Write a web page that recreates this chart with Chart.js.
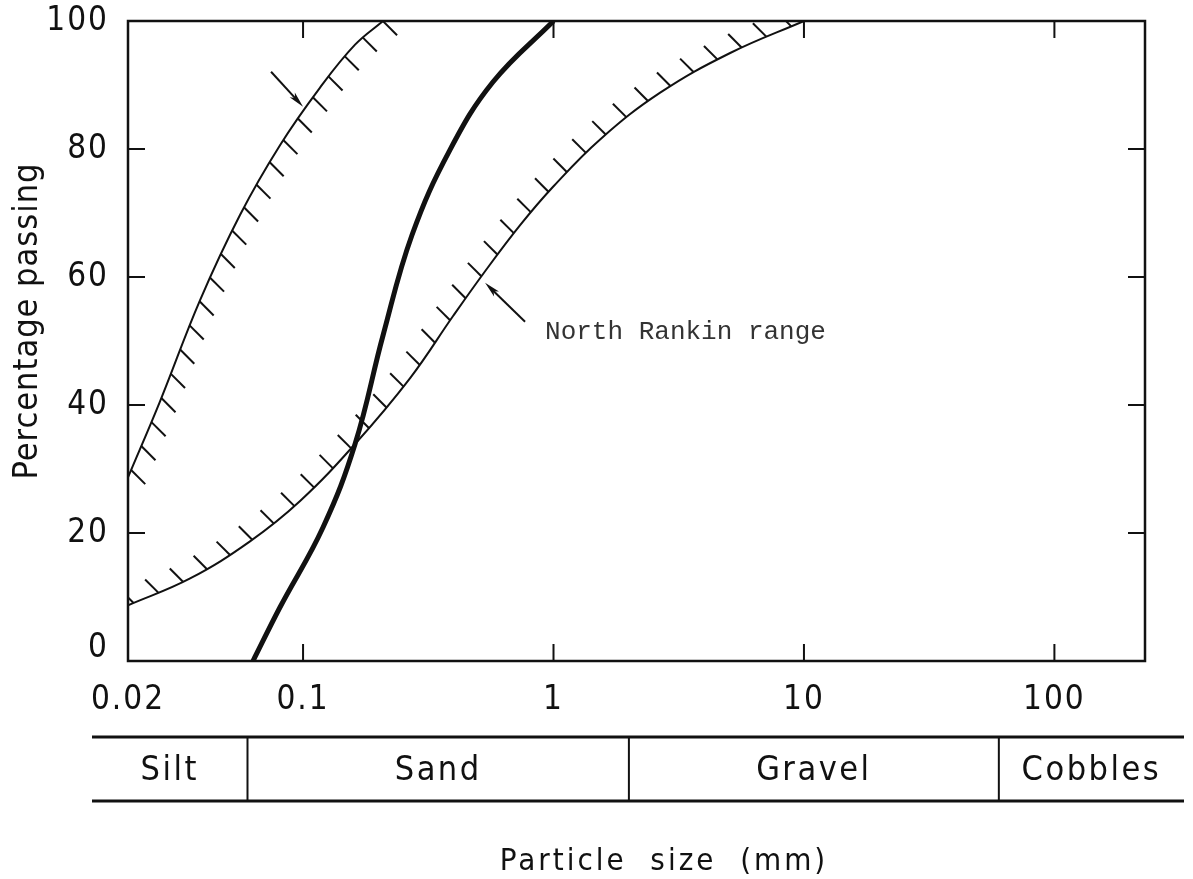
<!DOCTYPE html>
<html>
<head>
<meta charset="utf-8">
<script src="https://cdn.jsdelivr.net/npm/chart.js@4/dist/chart.umd.min.js"></script>
<style>
  html, body { margin: 0; padding: 0; background: #fff; }
  #chartContainer { width: 1193px; height: 879px; }
</style>
</head>
<body>
<div id="chartContainer"><canvas id="chartCanvas" width="1193" height="879"></canvas></div>
<script>
// Grading curves (particle size in mm, % passing)
const fineLimitX = [0.02, 0.0268, 0.0388, 0.056, 0.0809, 0.1169, 0.1613, 0.2087];
const fineLimitY = [28.7, 40.5, 56.4, 69.7, 80.6, 89.6, 96.3, 100];

const coarseLimitX = [0.02, 0.0354, 0.0614, 0.0973, 0.1613, 0.2676, 0.3972, 0.5331, 0.7357, 0.996, 1.535, 2.666, 5.074, 10];
const coarseLimitY = [8.7, 12.9, 18.7, 25.0, 33.9, 44.2, 53.9, 60.9, 68.1, 74.1, 81.5, 88.8, 95.0, 100];

const sampleX = [0.0631, 0.0809, 0.1202, 0.1613, 0.2087, 0.2725, 0.3865, 0.574, 1.0];
const sampleY = [0, 8.4, 20.9, 33.9, 50.9, 66.6, 79.9, 90.5, 100];

// axes
const xMin = 0.02, xMax = 230;
const xTickMarks = [0.1, 1, 10, 100];
const xLabelValues = [0.02, 0.1, 1, 10, 100];
const xLabelText = ['0.02', '0.1', '1', '10', '100'];
const yTicks = [0, 20, 40, 60, 80, 100];

// soil classes below the axis
const classLimits = [0.06, 2, 60];
const classNames = ['Silt', 'Sand', 'Gravel', 'Cobbles'];

// arrows: tip given in data units
const fineArrowTip = {x: 0.1, y: 86.6};
const rangeArrowTip = {x: 0.533, y: 59.1};
const rangeLabel = 'North Rankin range';

const INK = '#111';
const SANS = "'DejaVu Sans Condensed', 'DejaVu Sans', sans-serif";

function toPoints(xs, ys) {
    return xs.map((e, i) => ({x: e, y: ys[i]}));
}

// sample the bezier path chart.js built for a line
function pathSamples(pts) {
    const out = [{x: pts[0].x, y: pts[0].y}];
    for (let i = 0; i < pts.length - 1; i++) {
        const a = pts[i], b = pts[i + 1];
        const c1x = a.cp2x ?? a.x, c1y = a.cp2y ?? a.y;
        const c2x = b.cp1x ?? b.x, c2y = b.cp1y ?? b.y;
        for (let s = 1; s <= 30; s++) {
            const t = s / 30, u = 1 - t;
            out.push({
                x: u*u*u*a.x + 3*u*u*t*c1x + 3*u*t*t*c2x + t*t*t*b.x,
                y: u*u*u*a.y + 3*u*u*t*c1y + 3*u*t*t*c2y + t*t*t*b.y
            });
        }
    }
    return out;
}

function drawArrow(ctx, tx, ty, fx, fy) {
    const ang = Math.atan2(ty - fy, tx - fx);
    const headLen = 16, headW = 3.5;
    ctx.beginPath();
    ctx.moveTo(fx, fy);
    ctx.lineTo(tx - Math.cos(ang) * headLen * 0.6, ty - Math.sin(ang) * headLen * 0.6);
    ctx.stroke();
    ctx.save();
    ctx.translate(tx, ty);
    ctx.rotate(ang);
    ctx.beginPath();
    ctx.moveTo(0, 0);
    ctx.lineTo(-headLen, headW);
    ctx.lineTo(-headLen * 0.75, 0);
    ctx.lineTo(-headLen, -headW);
    ctx.closePath();
    ctx.fill();
    ctx.restore();
}

const hatchPlugin = {
    id: 'hatches',
    afterDatasetsDraw(chart) {
        const ctx = chart.ctx;
        const area = chart.chartArea;
        ctx.save();
        ctx.beginPath();
        ctx.rect(area.left, area.top, area.right - area.left, area.bottom - area.top);
        ctx.clip();
        ctx.strokeStyle = INK;
        ctx.lineWidth = 2;
        chart.data.datasets.forEach((ds, di) => {
            if (!ds.hatch) return;
            const pts = chart.getDatasetMeta(di).data;
            const path = pathSamples(pts);
            const step = ds.hatch.step, len = ds.hatch.length;
            const hx = ds.hatch.dx / Math.SQRT2 * len, hy = ds.hatch.dy / Math.SQRT2 * len;
            let dist = 0, next = ds.hatch.start;
            for (let i = 1; i < path.length; i++) {
                const seg = Math.hypot(path[i].x - path[i-1].x, path[i].y - path[i-1].y);
                while (dist + seg >= next) {
                    const f = (next - dist) / seg;
                    const px = path[i-1].x + (path[i].x - path[i-1].x) * f;
                    const py = path[i-1].y + (path[i].y - path[i-1].y) * f;
                    ctx.beginPath();
                    ctx.moveTo(px, py);
                    ctx.lineTo(px + hx, py + hy);
                    ctx.stroke();
                    next += step;
                }
                dist += seg;
            }
        });
        ctx.restore();
    }
};

const framePlugin = {
    id: 'frame',
    afterDraw(chart) {
        const ctx = chart.ctx;
        const a = chart.chartArea;
        const xs = chart.scales.x, ys = chart.scales.y;
        const tick = 17;
        ctx.save();
        ctx.strokeStyle = INK;
        ctx.fillStyle = INK;
        ctx.lineCap = 'butt';

        // plot border
        ctx.lineWidth = 2.5;
        ctx.strokeRect(a.left, a.top, a.right - a.left, a.bottom - a.top);

        // inward ticks
        ctx.lineWidth = 2;
        xTickMarks.forEach(v => {
            const px = xs.getPixelForValue(v);
            ctx.beginPath();
            ctx.moveTo(px, a.bottom); ctx.lineTo(px, a.bottom - tick);
            ctx.moveTo(px, a.top); ctx.lineTo(px, a.top + tick);
            ctx.stroke();
        });
        yTicks.forEach(v => {
            if (v === ys.min || v === ys.max) return;
            const py = ys.getPixelForValue(v);
            ctx.beginPath();
            ctx.moveTo(a.left, py); ctx.lineTo(a.left + tick, py);
            ctx.moveTo(a.right, py); ctx.lineTo(a.right - tick, py);
            ctx.stroke();
        });

        // tick labels
        ctx.font = '33px ' + SANS;
        ctx.letterSpacing = '2px';
        ctx.textAlign = 'right';
        ctx.textBaseline = 'middle';
        yTicks.forEach(v => {
            const py = Math.min(ys.getPixelForValue(v), a.bottom - 13);
            ctx.fillText(String(v), a.left - 19, py);
        });
        ctx.textAlign = 'center';
        ctx.textBaseline = 'alphabetic';
        xLabelValues.forEach((v, i) => {
            ctx.fillText(xLabelText[i], xs.getPixelForValue(v), a.bottom + 48);
        });

        // y title
        ctx.save();
        ctx.translate(37, a.top + 300);
        ctx.rotate(-Math.PI / 2);
        ctx.font = '34px ' + SANS;
        ctx.letterSpacing = '1px';
        ctx.fillText('Percentage passing', 0, 0);
        ctx.restore();

        // classification band
        const bandTop = a.bottom + 76, bandBot = a.bottom + 140;
        const bandLeft = a.left - 36, bandRight = a.right + 39;
        ctx.lineWidth = 3;
        ctx.beginPath();
        ctx.moveTo(bandLeft, bandTop); ctx.lineTo(bandRight, bandTop);
        ctx.moveTo(bandLeft, bandBot); ctx.lineTo(bandRight, bandBot);
        ctx.stroke();
        ctx.lineWidth = 2;
        const edges = [bandLeft].concat(classLimits.map(v => xs.getPixelForValue(v)), [bandRight]);
        classLimits.forEach((v, i) => {
            const px = edges[i + 1];
            ctx.beginPath();
            ctx.moveTo(px, bandTop); ctx.lineTo(px, bandBot);
            ctx.stroke();
        });
        ctx.font = '34px ' + SANS;
        ctx.letterSpacing = '2.5px';
        classNames.forEach((name, i) => {
            ctx.fillText(name, (edges[i] + edges[i + 1]) / 2, bandBot - 21);
        });

        // x title
        ctx.font = '31px ' + SANS;
        ctx.letterSpacing = '3px';
        ctx.fillText('Particle  size  (mm)', 664, a.bottom + 209);

        // arrows and annotation
        ctx.lineWidth = 2;
        const t1x = xs.getPixelForValue(fineArrowTip.x), t1y = ys.getPixelForValue(fineArrowTip.y);
        drawArrow(ctx, t1x, t1y, t1x - 32, t1y - 35);
        const t2x = xs.getPixelForValue(rangeArrowTip.x), t2y = ys.getPixelForValue(rangeArrowTip.y);
        drawArrow(ctx, t2x, t2y, t2x + 40, t2y + 39);
        ctx.font = "26px 'Liberation Mono', 'DejaVu Sans Mono', monospace";
        ctx.letterSpacing = '0px';
        ctx.fillStyle = '#333';
        ctx.textAlign = 'left';
        ctx.fillText(rangeLabel, t2x + 60, t2y + 56);
        ctx.restore();
    }
};

const ctx = document.getElementById('chartCanvas').getContext('2d');
new Chart(ctx, {
    type: 'scatter',
    data: {
        datasets: [
            {
                label: 'Fine limit',
                data: toPoints(fineLimitX, fineLimitY),
                showLine: true,
                borderColor: INK,
                borderWidth: 2,
                pointRadius: 0,
                tension: 0.4,
                hatch: {dx: 1, dy: 1, step: 26, length: 20, start: 8}
            },
            {
                label: 'Coarse limit',
                data: toPoints(coarseLimitX, coarseLimitY),
                showLine: true,
                borderColor: INK,
                borderWidth: 2,
                pointRadius: 0,
                tension: 0.4,
                hatch: {dx: -1, dy: -1, step: 27, length: 19, start: 6}
            },
            {
                label: 'Sample',
                data: toPoints(sampleX, sampleY),
                showLine: true,
                borderColor: INK,
                borderWidth: 5,
                pointRadius: 0,
                tension: 0.4
            }
        ]
    },
    options: {
        responsive: false,
        animation: false,
        devicePixelRatio: 1,
        layout: {padding: {left: 128, right: 48, top: 21, bottom: 218}},
        scales: {
            x: {type: 'logarithmic', min: xMin, max: xMax, display: false},
            y: {type: 'linear', min: 0, max: 100, display: false}
        },
        plugins: {
            legend: {display: false},
            tooltip: {enabled: false}
        }
    },
    plugins: [hatchPlugin, framePlugin]
});
</script>
</body>
</html>
